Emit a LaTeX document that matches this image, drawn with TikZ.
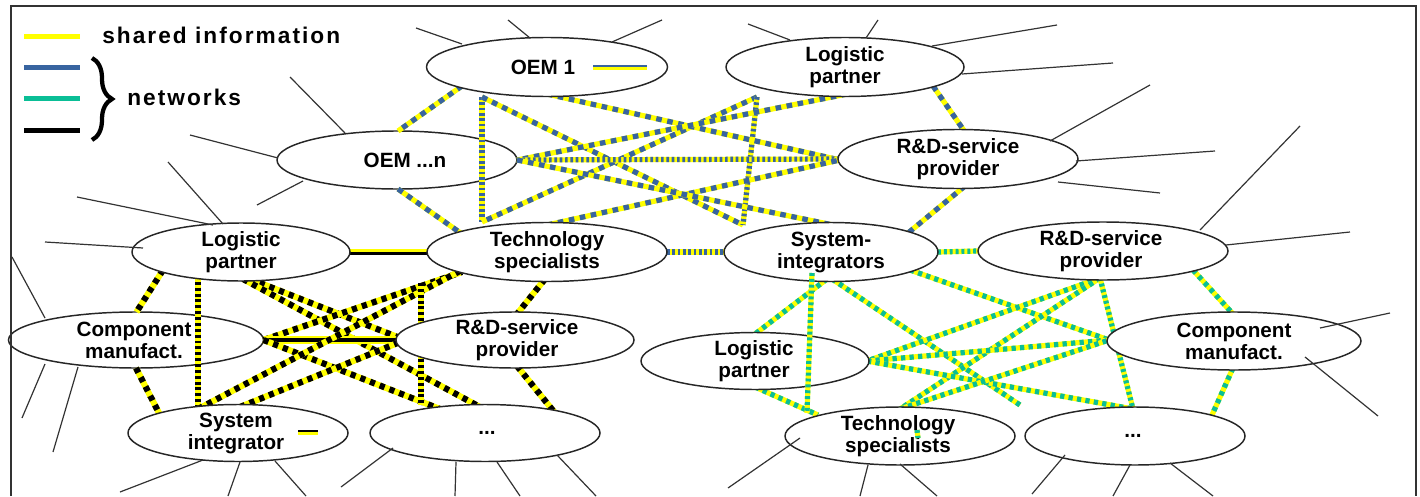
\documentclass[tikz,border=0pt]{standalone}
\usepackage{fontspec}
\setmainfont{Liberation Sans}
\usetikzlibrary{shapes.geometric,decorations.pathreplacing}
\definecolor{yel}{RGB}{255,255,0}
\definecolor{blu}{RGB}{56,100,160}
\definecolor{grn}{RGB}{10,190,150}
\definecolor{frm}{RGB}{50,50,50}
\pgfdeclarelayer{nodesA}
\pgfdeclarelayer{lines}
\pgfdeclarelayer{top}
\pgfsetlayers{nodesA,lines,main,top}
\tikzset{
 ell/.style 2 args={ellipse, draw=black!85, line width=1.1pt, fill=white, minimum width=#1*0.75pt, minimum height=#2*0.75pt, inner sep=0pt, outer sep=0pt},
 lbl/.style={align=center, font=\fontsize{15.5}{16.5}\selectfont\bfseries, inner sep=0pt},
 leg/.style={font=\fontsize{17}{19}\selectfont\bfseries\addfontfeature{LetterSpace=9}, inner sep=0pt},
 peri/.style={draw=black!80, line width=0.9pt},
 twotone/.style n args={3}{draw=yel, line width=#1, postaction={draw=#2, line width=#1, dash pattern=#3}},
 by/.style={twotone={3.9pt}{blu}{on 4.2pt off 4.2pt}},
 byf/.style={twotone={3.9pt}{blu}{on 2pt off 2pt}},
 ky/.style={twotone={4.6pt}{black}{on 3.9pt off 3.9pt}},
 kyf/.style={twotone={4pt}{black}{on 2.2pt off 2.2pt}},
 gy/.style={twotone={3.9pt}{grn}{on 3.2pt off 3.2pt}},
 gyf/.style={twotone={3.9pt}{grn}{on 2.2pt off 2.2pt}},
}
\begin{document}
\begin{tikzpicture}[x=0.75pt,y=-0.75pt]
\useasboundingbox (0,0) rectangle (1420,496);
% frame
\draw[frm, line width=1.5pt] (11,496) -- (11,6) -- (1416,6) -- (1416,496);
% legend
\draw[yel, line width=3.75pt] (24,36) -- (80,36);
\node[leg, anchor=base west] (legshared) at (102,43) {shared information};
\draw[blu, line width=3.75pt] (24,67) -- (80,67);
\draw[grn, line width=3.75pt] (24,98) -- (80,98);
\draw[black, line width=3.75pt] (24,130) -- (80,130);
\draw[line width=3.2pt, decorate, decoration={brace, amplitude=15pt}] (92,58) -- (92,140);
\node[leg, anchor=base west] (legnet) at (127,105) {networks};

% nodes under the lines
\begin{pgfonlayer}{nodesA}
\node[ell={255}{56}] (cml) at (136,340) {};
\node[ell={240}{58}] (oemn) at (397,160) {};
\end{pgfonlayer}

% other nodes
\node[ell={241}{59}] (oem1) at (547,67) {};
\node[ell={238}{59}] (lpt) at (845,67) {};
\node[ell={240}{59}] (rdt) at (958,159) {};
\node[ell={218}{58}] (lpl) at (241,252) {};
\node[ell={240}{59}] (ts) at (547,252) {};
\node[ell={214}{59}] (si) at (831,252) {};
\node[ell={250}{58}] (rdr) at (1103,251) {};
\node[ell={238}{56}] (rdm) at (515,340) {};
\node[ell={228}{57}] (lpr) at (755,361) {};
\node[ell={254}{58}] (cmr) at (1234,341) {};
\node[ell={220}{57}] (sil) at (238,433) {};
\node[ell={230}{57}] (dotl) at (485,433) {};
\node[ell={230}{58}] (tsb) at (900,436) {};
\node[ell={220}{58}] (dotr) at (1135,436) {};

\begin{pgfonlayer}{lines}
% blue network
\draw[by] ([shift={(-85,19)}]oem1.center) -- (oemn.88);
\draw[by] (oemn.272) -- ([shift={(-85,-18)}]ts.center);
\draw[byf] ([shift={(-65,30)}]oem1.center) -- ([shift={(-65,-30)}]ts.center);
\draw[by] ([shift={(-65,30)}]oem1.center) -- ([shift={(-88,-27)}]si.center);
\draw[by] ([shift={(-88,30)}]lpt.center) -- ([shift={(-65,-30)}]ts.center);
\draw[byf] ([shift={(-88,30)}]lpt.center) -- ([shift={(-88,-27)}]si.center);
\draw[by] ([shift={(0,27)}]oem1.center) -- ([shift={(-118,1)}]rdt.center);
\draw[by] ([shift={(2,27)}]lpt.center) -- (oemn.east);
\draw[byf] (oemn.east) -- (rdt.west);
\draw[by] ([shift={(0,-27)}]ts.center) -- ([shift={(-118,1)}]rdt.center);
\draw[by] (oemn.east) -- ([shift={(2,-27)}]si.center);
\draw[by] ([shift={(88,19)}]lpt.center) -- ([shift={(7,-27)}]rdt.center);
\draw[by] ([shift={(7,27)}]rdt.center) -- ([shift={(77,-19)}]si.center);
\draw[byf] (ts.east) -- (si.west);
% black network
\draw[yel, line width=4.5pt] (lpl.east) -- (ts.west);
\draw[black, line width=2.2pt] ([shift={(0,1.5)}]lpl.east) -- ([shift={(0,1.5)}]ts.west);
\draw[ky] ([shift={(-78,18)}]lpl.center) -- (cml.89);
\draw[kyf] ([shift={(-43,24)}]lpl.center) -- ([shift={(-40,-24)}]sil.center);
\draw[ky] (cml.south) -- ([shift={(-78,-18)}]sil.center);
\draw[ky] ([shift={(9,27)}]lpl.center) -- ([shift={(-115,-2)}]rdm.center);
\draw[ky] ([shift={(2,27)}]lpl.center) -- ([shift={(-5,-26)}]dotl.center);
\draw[ky] (cml.east) -- ([shift={(-85,20)}]ts.center);
\draw[yel, line width=5.5pt] (cml.east) -- (rdm.west);
\draw[black, line width=2.6pt] (cml.east) -- (rdm.west);
\draw[ky] (cml.east) -- ([shift={(-45,-24)}]dotl.center);
\draw[ky] ([shift={(-40,-24)}]sil.center) -- ([shift={(-87,19)}]ts.center);
\draw[ky] ([shift={(2,-26)}]sil.center) -- ([shift={(-115,2)}]rdm.center);
\draw[ky] ([shift={(-2,27)}]ts.center) -- ([shift={(2,-26)}]rdm.center);
\draw[ky] ([shift={(2,26)}]rdm.center) -- ([shift={(70,-20)}]dotl.center);
\draw[kyf] ([shift={(-126,31)}]ts.center) -- ([shift={(-64,-28)}]dotl.center);
% green network
\draw[gyf] (si.east) -- (rdr.west);
\draw[gy] ([shift={(-4,27)}]si.center) -- ([shift={(0,-27)}]lpr.center);
\draw[gy] ([shift={(0,26)}]lpr.center) -- ([shift={(-82,-21)}]tsb.center);
\draw[gy] ([shift={(1,27)}]si.center) -- ([shift={(120,-31)}]tsb.center);
\draw[gy] ([shift={(79,18)}]si.center) -- ([shift={(-125,-1)}]cmr.center);
\draw[gy] ([shift={(-3,27)}]rdr.center) -- ([shift={(112,0)}]lpr.center);
\draw[gy] ([shift={(-3,27)}]rdr.center) -- ([shift={(0,-27)}]tsb.center);
\draw[gyf] ([shift={(-3,27)}]rdr.center) -- ([shift={(-2,-27)}]dotr.center);
\draw[gy] ([shift={(112,0)}]lpr.center) -- ([shift={(-125,-1)}]cmr.center);
\draw[gy] ([shift={(112,0)}]lpr.center) -- ([shift={(-2,-27)}]dotr.center);
\draw[gy] ([shift={(0,-27)}]tsb.center) -- ([shift={(-125,-1)}]cmr.center);
\draw[gy] ([shift={(90,19)}]rdr.center) -- ([shift={(-1,-27)}]cmr.center);
\draw[gy] ([shift={(-1,27)}]cmr.center) -- ([shift={(77,-21)}]dotr.center);
\end{pgfonlayer}

% labels
\node[lbl] (oem1t) at ([shift={(-4,0)}]oem1.center) {OEM 1};
\node[lbl] (lptt) at (lpt.center) {Logistic\\partner};
\node[lbl] (oemnt) at ([shift={(8,0)}]oemn.center) {OEM ...n};
\node[lbl] (rdtt) at (rdt.center) {R\&D-service\\provider};
\node[lbl] (lplt) at (lpl.center) {Logistic\\partner};
\node[lbl] (tst) at (ts.center) {Technology\\specialists};
\node[lbl] (sit) at (si.center) {System-\\integrators};
\node[lbl] (rdrt) at ([shift={(-2,0)}]rdr.center) {R\&D-service\\provider};
\node[lbl] (cmlt) at ([shift={(-2,0)}]cml.center) {Component\\manufact.};
\node[lbl] (rdmt) at ([shift={(2,0)}]rdm.center) {R\&D-service\\provider};
\node[lbl] (lprt) at ([shift={(-1,0)}]lpr.center) {Logistic\\partner};
\node[lbl] (cmrt) at (cmr.center) {Component\\manufact.};
\node[lbl] (silt) at ([shift={(-2,0)}]sil.center) {System\\integrator};
\node[lbl] (dotlt) at ([shift={(2,0)}]dotl.center) {...};
\node[lbl] (tsbt) at ([shift={(-2,0)}]tsb.center) {Technology\\specialists};
\node[lbl] (dotrt) at ([shift={(-2,0)}]dotr.center) {...};

\begin{pgfonlayer}{top}
% lines over nodes
\draw[gyf] ([shift={(-19,21)}]si.center) -- ([shift={(-93,-23)}]tsb.center);
\draw[gyf] ([shift={(17,-6)}]tsb.center) -- ([shift={(18,2)}]tsb.center);
% swatches
\draw[yel, line width=3.5pt] ([shift={(46,1)}]oem1.center) -- ([shift={(100,1)}]oem1.center);
\draw[blu, line width=1.8pt] ([shift={(46,-1)}]oem1.center) -- ([shift={(100,-1)}]oem1.center);
\draw[yel, line width=3.5pt] ([shift={(60,0)}]sil.center) -- ([shift={(80,0)}]sil.center);
\draw[black, line width=1.5pt] ([shift={(60,-2)}]sil.center) -- ([shift={(80,-2)}]sil.center);
% peripheral lines
\draw[peri] ([shift={(-85,-23)}]oem1.center) -- ++(-46,-16);
\draw[peri] ([shift={(-17,-29)}]oem1.center) -- ++(-22,-18);
\draw[peri] ([shift={(65,-25)}]oem1.center) -- ++(50,-22);
\draw[peri] ([shift={(-55,-27)}]lpt.center) -- ++(-42,-16);
\draw[peri] ([shift={(21,-29)}]lpt.center) -- ++(12,-18);
\draw[peri] ([shift={(87,-21)}]lpt.center) -- ++(125,-21);
\draw[peri] ([shift={(117,7)}]lpt.center) -- ++(151,-11);
\draw[peri] ([shift={(-52,-27)}]oemn.center) -- ++(-55,-56);
\draw[peri] ([shift={(-119,-2)}]oemn.center) -- ++(-88,-23);
\draw[peri] ([shift={(-94,21)}]oemn.center) -- ++(-46,24);
\draw[peri] ([shift={(92,-18)}]rdt.center) -- ++(100,-56);
\draw[peri] ([shift={(118,2)}]rdt.center) -- ++(139,-10);
\draw[peri] ([shift={(100,23)}]rdt.center) -- ++(102,11);
\draw[peri] ([shift={(97,-21)}]rdr.center) -- ++(100,-104);
\draw[peri] ([shift={(123,-6)}]rdr.center) -- ++(124,-13);
\draw[peri] ([shift={(-91,-22)}]cml.center) -- ++(-33,-61);
\draw[peri] ([shift={(-91,24)}]cml.center) -- ++(-23,54);
\draw[peri] ([shift={(-58,27)}]cml.center) -- ++(-25,85);
\draw[peri] ([shift={(-18,-28)}]lpl.center) -- ++(-55,-62);
\draw[peri] ([shift={(-28,-27)}]lpl.center) -- ++(-136,-28);
\draw[peri] ([shift={(-98,-4)}]lpl.center) -- ++(-98,-6);
\draw[peri] ([shift={(-35,27)}]sil.center) -- ++(-83,32);
\draw[peri] ([shift={(2,29)}]sil.center) -- ++(-12,34);
\draw[peri] ([shift={(37,28)}]sil.center) -- ++(31,35);
\draw[peri] ([shift={(-92,15)}]dotl.center) -- ++(-52,39);
\draw[peri] ([shift={(-29,29)}]dotl.center) -- ++(-1,34);
\draw[peri] ([shift={(12,29)}]dotl.center) -- ++(23,34);
\draw[peri] ([shift={(72,22)}]dotl.center) -- ++(39,41);
\draw[peri] ([shift={(-100,2)}]tsb.center) -- ++(-72,50);
\draw[peri] ([shift={(-32,29)}]tsb.center) -- ++(-8,31);
\draw[peri] ([shift={(0,28)}]tsb.center) -- ++(37,32);
\draw[peri] ([shift={(-70,19)}]dotr.center) -- ++(-33,39);
\draw[peri] ([shift={(-5,29)}]dotr.center) -- ++(-17,31);
\draw[peri] ([shift={(35,27)}]dotr.center) -- ++(43,33);
\draw[peri] ([shift={(86,-13)}]cmr.center) -- ++(70,-15);
\draw[peri] ([shift={(71,16)}]cmr.center) -- ++(73,59);
\end{pgfonlayer}
\end{tikzpicture}
\end{document}
